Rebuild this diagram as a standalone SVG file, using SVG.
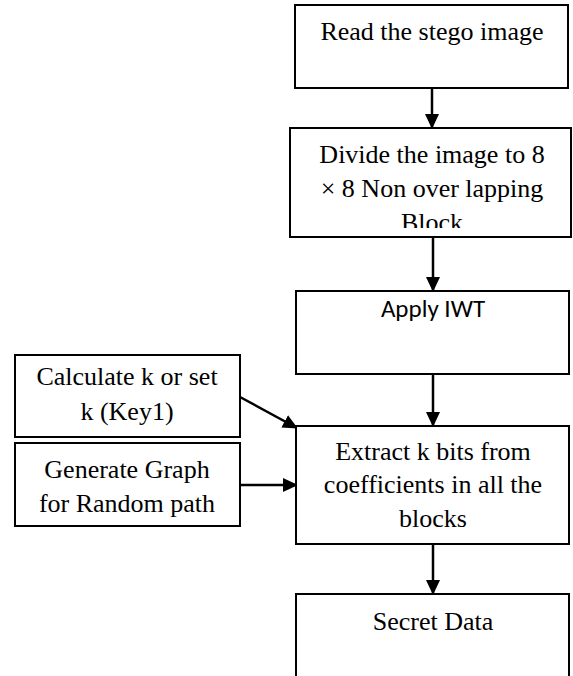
<svg xmlns="http://www.w3.org/2000/svg" width="573" height="676" viewBox="0 0 573 676">
<style>
.box{fill:#fff;stroke:#000;stroke-width:2}
.t{font-family:"Liberation Serif","Times New Roman",serif;font-size:26px;fill:#000;text-anchor:middle}
.s{font-family:Carlito,Calibri,Lato,"Liberation Sans",sans-serif;font-size:25px;fill:#000;text-anchor:middle}
.c{stroke:#000;stroke-width:2.5;fill:none}
</style>
<defs>
<marker id="ah" markerUnits="userSpaceOnUse" markerWidth="16" markerHeight="16" viewBox="0 0 16 16" refX="14" refY="8" orient="auto">
<path d="M0,1 L15,8 L0,15 Z" fill="#000"/>
</marker>
<clipPath id="clip2"><rect x="290" y="128" width="282" height="100"/></clipPath>
</defs>
<rect width="573" height="676" fill="#fff"/>
<g id="connectors">
<line class="c" x1="432" y1="88" x2="432" y2="128" marker-end="url(#ah)"/>
<line class="c" x1="433" y1="237" x2="433" y2="291" marker-end="url(#ah)"/>
<line class="c" x1="433" y1="374" x2="433" y2="426" marker-end="url(#ah)"/>
<line class="c" x1="433" y1="544" x2="433" y2="594" marker-end="url(#ah)"/>
<line class="c" x1="240" y1="397" x2="297" y2="428" marker-end="url(#ah)"/>
<line class="c" x1="240" y1="485" x2="297" y2="485" marker-end="url(#ah)"/>
</g>
<g id="read">
<rect class="box" x="295" y="5" width="273" height="83"/>
<text class="t" x="432" y="40">Read the stego image</text>
</g>
<g id="divide">
<rect class="box" x="290" y="128" width="281" height="109"/>
<g clip-path="url(#clip2)">
<text class="t" x="432" y="163">Divide the image to 8</text>
<text class="t" x="432" y="197">× 8 Non over lapping</text>
<text class="t" x="432" y="231">Block</text>
</g>
</g>
<g id="iwt">
<rect class="box" x="296" y="291" width="273" height="83"/>
<text class="s" x="433" y="317">Apply IWT</text>
</g>
<g id="calc">
<rect class="box" x="15" y="355" width="225" height="82"/>
<text class="t" x="127" y="385">Calculate k or set</text>
<text class="t" x="127" y="420">k (Key1)</text>
</g>
<g id="graph">
<rect class="box" x="15" y="443" width="225" height="83"/>
<text class="t" x="127" y="478">Generate Graph</text>
<text class="t" x="127" y="512">for Random path</text>
</g>
<g id="extract">
<rect class="box" x="296" y="426" width="273" height="118"/>
<text class="t" x="433" y="460">Extract k bits from</text>
<text class="t" x="433" y="493">coefficients in all the</text>
<text class="t" x="433" y="527">blocks</text>
</g>
<g id="secret">
<rect class="box" x="296" y="594" width="273" height="100"/>
<text class="t" x="433" y="630">Secret Data</text>
</g>
</svg>
